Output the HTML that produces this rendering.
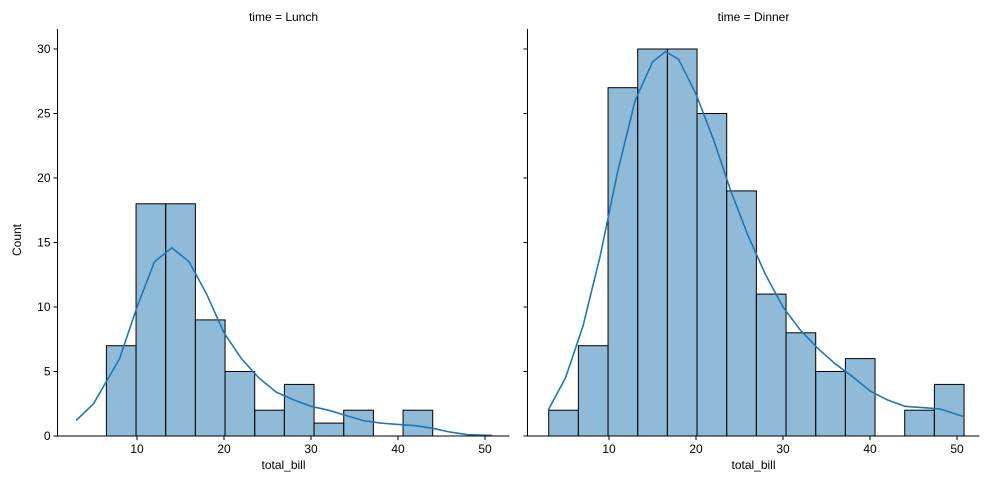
<!DOCTYPE html>
<html><head><meta charset="utf-8"><style>
body{margin:0;background:#fff}
svg{display:block;font-family:"Liberation Sans","DejaVu Sans",sans-serif}
</style></head><body>
<svg id="c" width="989" height="490"></svg>
<script>
const binStart = 3.07, binWidth = 3.41;
const lunchCounts = [0,7,18,18,9,5,2,4,1,2,0,2,0,0];
const dinnerCounts = [2,7,27,30,30,25,19,11,8,5,6,0,2,4];
const lunchKdeX = [3,5,8,10,12,14,16,18,20,22,24,26,28,30,32,34,36,38,40,42,44,46,48,50.8];
const lunchKdeY = [1.2,2.5,6,10,13.5,14.6,13.5,11,8,6,4.5,3.4,2.8,2.3,2,1.6,1.2,1,0.9,0.8,0.6,0.3,0.1,0.05];
const dinnerKdeX = [3,5,7,9,11,13,15,16.5,18,20,22,24,26,28,30,32,34,36,38,40,42,44,46,48,50.8];
const dinnerKdeY = [2,4.5,8.5,14,20.5,26,29,29.8,29.2,26.5,23,19,15.5,12.5,10,8.2,6.8,5.6,4.6,3.5,2.8,2.3,2.2,2.1,1.5];
const xTicks = [10,20,30,40,50];
const yTicks = [0,5,10,15,20,25,30];
const titles = ["time = Lunch","time = Dinner"];

const NS="http://www.w3.org/2000/svg";
const svg=document.getElementById('c');
function mk(t,a,p){const e=document.createElementNS(NS,t);for(const k in a)e.setAttribute(k,a[k]);(p||svg).appendChild(e);return e;}
const y0=436, yScale=12.9;
const Y=v=>y0-v*yScale;
const panels=[{x0:57.5,counts:lunchCounts,kx:lunchKdeX,ky:lunchKdeY,origin:137-10*8.7},
              {x0:527.5,counts:dinnerCounts,kx:dinnerKdeX,ky:dinnerKdeY,origin:609-10*8.7}];
panels.forEach((p,pi)=>{
  const X=v=>p.origin+v*8.7;
  const g=mk('g',{});
  
  
  p.counts.forEach((c,i)=>{
    const xa=X(binStart+i*binWidth), xb=X(binStart+(i+1)*binWidth);
    const r=mk('rect',{x:xa,y:Y(c),width:xb-xa,height:c*yScale,fill:'rgba(31,119,180,0.5)',stroke:'#000','stroke-width':1},g);
    
    
  });
  const pts=p.kx.map((v,i)=>X(v).toFixed(1)+','+Y(p.ky[i]).toFixed(1)).join(' ');
  const l=mk('polyline',{points:pts,fill:'none',stroke:'#1f77b4','stroke-width':1.6,'stroke-linejoin':'round'},g);
  
  
  const ax=mk('line',{x1:p.x0,y1:29,x2:p.x0,y2:y0,stroke:'#000','stroke-width':1},g);
  
  
  const bx=mk('line',{x1:p.x0,y1:y0,x2:p.x0+452,y2:y0,stroke:'#000','stroke-width':1},g);
  
  
  xTicks.forEach(t=>{
    mk('line',{x1:X(t),y1:y0,x2:X(t),y2:y0+4,stroke:'#000'},g);
    const tx=mk('text',{x:X(t),y:y0+17,'text-anchor':'middle','font-size':12},g);
    tx.textContent=t;
    
    
  });
  yTicks.forEach(t=>{
    mk('line',{x1:p.x0-4,y1:Y(t),x2:p.x0,y2:Y(t),stroke:'#000'},g);
    if(pi===0){
      const ty=mk('text',{x:p.x0-7,y:Y(t)+4,'text-anchor':'end','font-size':12},g);
      ty.textContent=t;
      
      
    }
  });
  const xt=mk('text',{x:p.x0+226,y:y0+33,'text-anchor':'middle','font-size':12},g);
  xt.textContent='total_bill';
  
  
  const tt=mk('text',{x:p.x0+226,y:21,'text-anchor':'middle','font-size':12},g);
  tt.textContent=titles[pi];
  
  
});
const yl=mk('text',{x:21,y:240,'text-anchor':'middle','font-size':12,transform:'rotate(-90 21 240)'});
yl.textContent='Count';


</script>
</body></html>
